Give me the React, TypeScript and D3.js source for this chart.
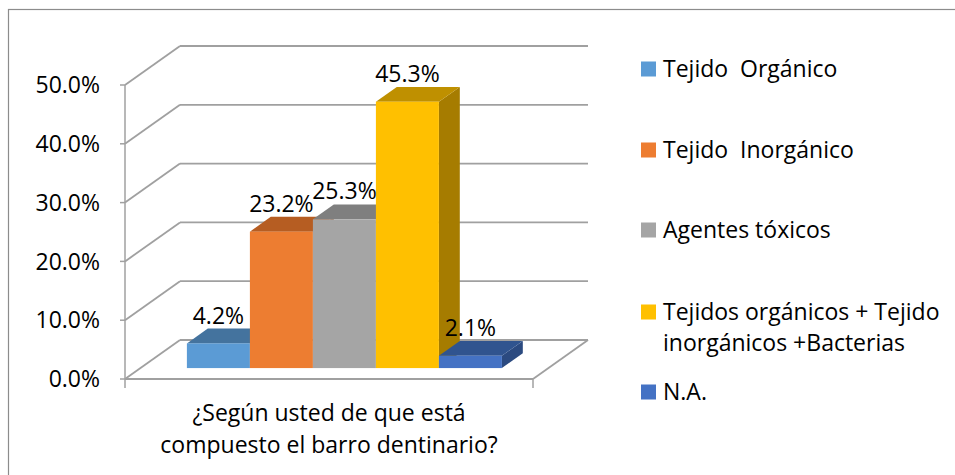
import React, { useEffect, useRef } from 'react';
import * as d3 from 'd3';

const categories = [
    'Tejido  Orgánico',
    'Tejido  Inorgánico',
    'Agentes tóxicos',
    'Tejidos orgánicos + Tejido inorgánicos +Bacterias',
    'N.A.'
];
const legendLines = [
    ['Tejido  Orgánico'],
    ['Tejido  Inorgánico'],
    ['Agentes tóxicos'],
    ['Tejidos orgánicos + Tejido', 'inorgánicos +Bacterias'],
    ['N.A.']
];
const values = [0.042, 0.232, 0.253, 0.453, 0.021];
const yTicks = [0, 0.1, 0.2, 0.3, 0.4, 0.5];
const axisTitle = ['¿Según usted de que está', 'compuesto el barro dentinario?'];

const frontColors = ['#5b9bd5', '#ed7d31', '#a5a5a5', '#ffc000', '#4472c4'];
const topColors = ['#44739e', '#b65d22', '#7f7f7f', '#bf9000', '#30548f'];
const sideColors = ['#3b6589', '#9e511e', '#6e6e6e', '#a67c00', '#2b4a80'];

const W = 955;
const H = 475;
const FONT = '"Open Sans", "Noto Sans", sans-serif';
const FS = '23px';

export default function App() {
    const svgRef = useRef<SVGSVGElement>(null);

    useEffect(() => {
        if (!svgRef.current) return;
        const svg = d3.select(svgRef.current);
        svg.selectAll('*').remove();

        // front plane of the 3D box
        const left = 125, right = 533;
        const DX = 55, DY = 39; // depth offset of back wall
        const d0 = 0.28, d1 = 0.66; // bar depth range

        const y = d3.scaleLinear().domain([0, 0.5]).range([379, 85]);
        const x = d3.scaleBand<string>()
            .domain(categories)
            .range([left, right])
            .paddingInner(0)
            .paddingOuter(0.738);

        const grid = '#a0a0a0';

        // chart border
        svg.append('rect')
            .attr('x', 8.5).attr('y', 9.5)
            .attr('width', W).attr('height', H)
            .attr('fill', 'white')
            .attr('stroke', '#8c8c8c')
            .attr('stroke-width', 1.2);

        // back wall gridlines + left wall diagonals
        yTicks.forEach(t => {
            const yf = y(t);
            svg.append('line')
                .attr('x1', left + DX).attr('y1', yf - DY)
                .attr('x2', right + DX).attr('y2', yf - DY)
                .attr('stroke', grid).attr('stroke-width', 1.8);
            svg.append('line')
                .attr('x1', left).attr('y1', yf)
                .attr('x2', left + DX).attr('y2', yf - DY)
                .attr('stroke', grid).attr('stroke-width', 1.8);
            // tick
            svg.append('line')
                .attr('x1', left - 5).attr('y1', yf)
                .attr('x2', left).attr('y2', yf)
                .attr('stroke', grid).attr('stroke-width', 1.5);
            svg.append('text')
                .attr('x', 100).attr('y', yf)
                .attr('dy', '0.36em')
                .attr('text-anchor', 'end')
                .style('font-family', FONT)
                .style('font-size', FS)
                .attr('fill', '#000')
                .text(d3.format('.1%')(t));
        });

        // vertical axis
        svg.append('line')
            .attr('x1', left).attr('y1', y(0.5))
            .attr('x2', left).attr('y2', y(0))
            .attr('stroke', grid).attr('stroke-width', 1.5);

        // floor front edge, right diagonal, bottom ticks
        svg.append('line')
            .attr('x1', left).attr('y1', y(0))
            .attr('x2', right).attr('y2', y(0))
            .attr('stroke', grid).attr('stroke-width', 1.8);
        svg.append('line')
            .attr('x1', right).attr('y1', y(0))
            .attr('x2', right + DX).attr('y2', y(0) - DY)
            .attr('stroke', grid).attr('stroke-width', 1.8);
        [left, right].forEach(px => {
            svg.append('line')
                .attr('x1', px).attr('y1', y(0))
                .attr('x2', px).attr('y2', y(0) + 9)
                .attr('stroke', grid).attr('stroke-width', 1.5);
        });

        // bars
        const bw = x.bandwidth();
        const ox0 = d0 * DX, oy0 = d0 * DY;
        const ox1 = d1 * DX, oy1 = d1 * DY;
        const path = (pts: [number, number][]) => 'M' + pts.map(p => p.join(',')).join('L') + 'Z';
        categories.forEach((c, i) => {
            const xl = (x(c) ?? 0) + ox0;
            const xr = xl + bw;
            const yb = y(0) - oy0;
            const yt = y(values[i]) - oy0;
            const ddx = ox1 - ox0, ddy = oy1 - oy0;

            svg.append('path')
                .attr('d', path([[xr, yt], [xr + ddx, yt - ddy], [xr + ddx, yb - ddy], [xr, yb]]))
                .attr('fill', sideColors[i]);
            svg.append('path')
                .attr('d', path([[xl, yt], [xl + ddx, yt - ddy], [xr + ddx, yt - ddy], [xr, yt]]))
                .attr('fill', topColors[i]);
            svg.append('rect')
                .attr('x', xl).attr('y', yt)
                .attr('width', bw).attr('height', yb - yt)
                .attr('fill', frontColors[i]);
        });

        // data labels, drawn last so they sit on top
        categories.forEach((c, i) => {
            const xl = (x(c) ?? 0) + ox0;
            svg.append('text')
                .attr('x', xl + bw / 2)
                .attr('y', y(values[i]) - oy1 - 5)
                .attr('text-anchor', 'middle')
                .style('font-family', FONT)
                .style('font-size', FS)
                .attr('fill', '#000')
                .text(d3.format('.1%')(values[i]));
        });

        // axis title
        axisTitle.forEach((line, i) => {
            svg.append('text')
                .attr('x', 329)
                .attr('y', 421 + i * 32)
                .attr('text-anchor', 'middle')
                .style('font-family', FONT)
                .style('font-size', FS)
                .attr('fill', '#000')
                .text(line);
        });

        // legend
        const legendY = [69, 150, 230, 312, 392];
        legendLines.forEach((lines, i) => {
            const cy = legendY[i];
            svg.append('rect')
                .attr('x', 641).attr('y', cy - 7.5)
                .attr('width', 15).attr('height', 15)
                .attr('fill', frontColors[i]);
            lines.forEach((ln, j) => {
                svg.append('text')
                    .attr('x', 663)
                    .attr('y', cy + j * 31)
                    .attr('dy', '0.36em')
                    .style('font-family', FONT)
                    .style('font-size', FS)
                    .style('white-space', 'pre')
                    .attr('fill', '#000')
                    .text(ln);
            });
        });
    }, []);

    return (
        <svg
            ref={svgRef}
            width={W}
            height={H}
            style={{ position: 'absolute', left: 0, top: 0, background: '#fff' }}
        />
    );
}
